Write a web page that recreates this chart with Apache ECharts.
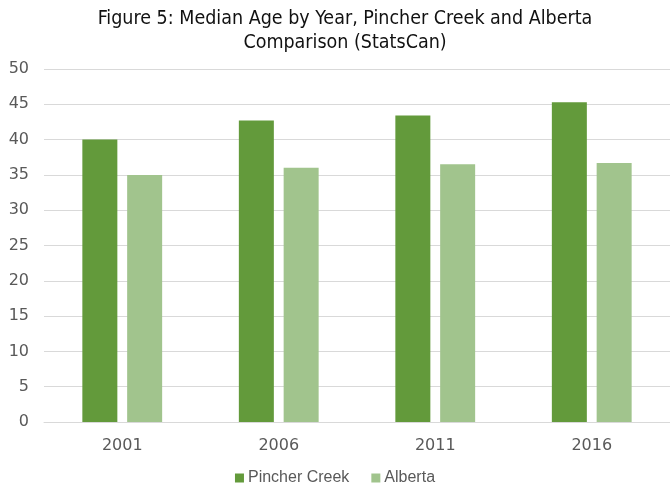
<!DOCTYPE html>
<html>
<head>
<meta charset="utf-8">
<script src="https://cdn.jsdelivr.net/npm/echarts@6/dist/echarts.min.js"></script>
<style>
  html, body { margin: 0; padding: 0; background: #ffffff; }
  #chart { width: 670px; height: 489px; }
</style>
</head>
<body>
<div id="chart"></div>
<script>
// Median age by census year
const years = ['2001', '2006', '2011', '2016'];
const pincherCreek = [40.0, 42.7, 43.4, 45.3];
const alberta = [35.0, 36.0, 36.5, 36.7];
const yTicks = { min: 0, max: 50, interval: 5 };

const axisFont = '"DejaVu Sans", "Liberation Sans", sans-serif';
const legendFont = '"Liberation Sans", "DejaVu Sans", sans-serif';
const titleFont = '"Liberation Sans Narrow", "DejaVu Sans Condensed", "Roboto", sans-serif';

const chart = echarts.init(document.getElementById('chart'));
chart.setOption({
  backgroundColor: '#ffffff',
  animation: false,
  title: {
    text: 'Figure 5: Median Age by Year, Pincher Creek and Alberta\nComparison (StatsCan)',
    left: 345,
    top: 7,
    padding: 0,
    textAlign: 'center',
    textStyle: {
      fontFamily: titleFont,
      fontSize: 19.5,
      fontWeight: 'normal',
      color: '#111111',
      lineHeight: 24
    }
  },
  legend: {
    data: ['Pincher Creek', 'Alberta'],
    left: 'center',
    top: 470,
    padding: 0,
    itemWidth: 9,
    itemHeight: 9,
    itemGap: 22,
    icon: 'rect',
    textStyle: { fontFamily: legendFont, fontSize: 16, color: '#595959', padding: [0, 0, 0, -1] }
  },
  grid: { left: 44, right: -4, top: 69, bottom: 67 },
  xAxis: {
    type: 'category',
    data: years,
    axisLine: { lineStyle: { color: '#d9d9d9', width: 1 } },
    axisTick: { show: false },
    axisLabel: { fontFamily: axisFont, fontSize: 16, color: '#595959', margin: 16 }
  },
  yAxis: {
    type: 'value',
    min: yTicks.min,
    max: yTicks.max,
    interval: yTicks.interval,
    axisLine: { show: false },
    axisTick: { show: false },
    splitLine: { lineStyle: { color: '#d9d9d9', width: 1 } },
    axisLabel: { fontFamily: axisFont, fontSize: 16, color: '#595959', margin: 15 }
  },
  series: [
    {
      name: 'Pincher Creek',
      type: 'bar',
      data: pincherCreek,
      barWidth: 35,
      barGap: '28%',
      itemStyle: { color: '#639a3b' }
    },
    {
      name: 'Alberta',
      type: 'bar',
      data: alberta,
      barWidth: 35,
      itemStyle: { color: '#a1c48d' }
    }
  ]
});
</script>
</body>
</html>
